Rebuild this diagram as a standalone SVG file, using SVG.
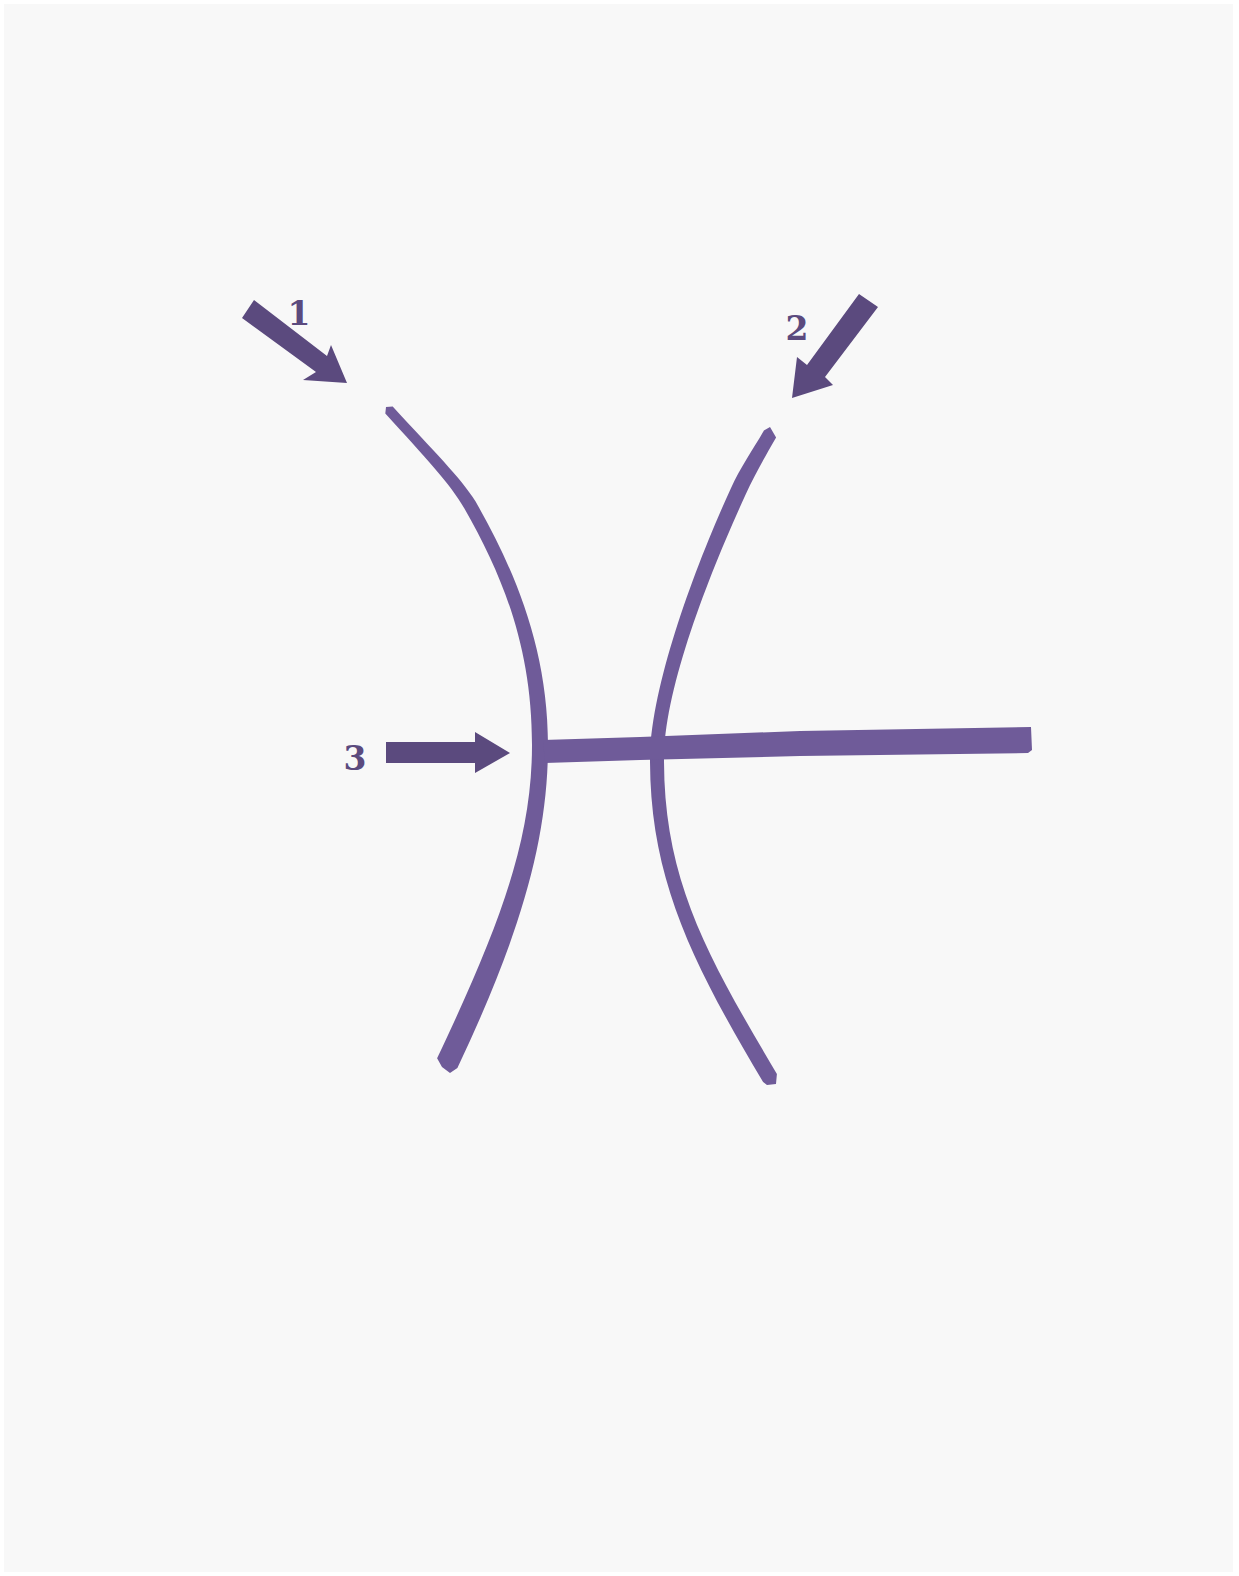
<svg xmlns="http://www.w3.org/2000/svg" width="1239" height="1576" viewBox="0 0 1239 1576">
<style>
.bg{fill:#f8f8f8}
.ink{fill:#6f5b99}
.arrow{fill:#5b4a7e}
.lbl{font-family:"DejaVu Serif","Liberation Serif",serif;font-weight:bold;font-size:33px;fill:#5b4a7e}
</style>
<rect x="0" y="0" width="1239" height="1576" fill="#ffffff"/>
<rect class="bg" x="4" y="4" width="1229" height="1568"/>
<g id="symbol">
<path id="left-curve" class="ink" d="M392.7,406.6 C433.7,451.6 460.2,476.9 475.6,501.6 C515.6,571.6 548,650 548,745 C548,840 520.4,934.9 457.4,1067.9 L450,1073 L442,1067 L437.1,1058.3 C500.1,925.3 532,840 532,745 C532,650 504.4,578.4 464.4,508.4 C449.8,483.1 426.3,458.4 385.3,413.4 L386,407 Z"/>
<path id="right-curve" class="ink" d="M776.1,437.5 C764.1,458.5 755.3,473.3 745.3,495.3 C707.3,578.3 664,690 664,760 C664,880 706.9,955.9 776.9,1073.9 L776,1084 L767,1085 L763.1,1082.1 C693.1,964.1 650,880 650,760 C650,690 692.7,571.7 730.7,488.7 C740.7,466.7 751.9,451.5 763.9,430.5 L770,427 Z"/>
<path id="bar" class="ink" d="M543,740 L640,737 L800,731 L1031,727 L1032,750 L1028,753 L800,756 L640,760 L545,763 Z"/>
</g>
<g id="connectors">
<path id="arrow1" class="arrow" d="M254,300 L327,356 L331,345 L347,383 L303,380 L316,372 L242,318 Z"/>
<path id="arrow2" class="arrow" d="M859,294 L878,307 L825,377 L833,385 L792,398 L797,357 L807,365 Z"/>
<path id="arrow3" class="arrow" d="M386,742 L475,742 L475,732 L510,753 L475,773 L475,763 L386,763 Z"/>
</g>
<g id="label1"><text class="lbl" x="299" y="325" text-anchor="middle">1</text></g>
<g id="label2"><text class="lbl" x="797" y="340" text-anchor="middle">2</text></g>
<g id="label3"><text class="lbl" x="355" y="770" text-anchor="middle">3</text></g>
</svg>
